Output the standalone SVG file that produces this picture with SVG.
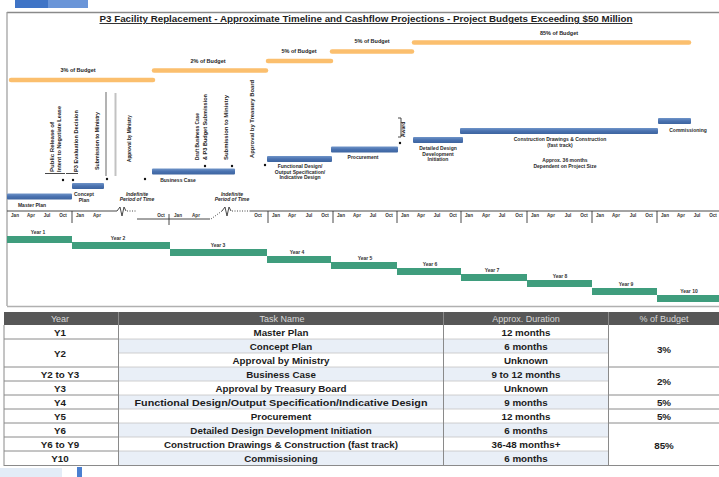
<svg xmlns="http://www.w3.org/2000/svg" width="719" height="477" viewBox="0 0 719 477">
<defs>
<linearGradient id="bar" x1="0" y1="0" x2="0" y2="1">
<stop offset="0" stop-color="#6f94c8"/><stop offset="0.5" stop-color="#4a72b0"/><stop offset="1" stop-color="#3d649f"/>
</linearGradient>
<style>
text{font-family:"Liberation Sans",Arial,sans-serif;fill:#1e1e1e}
.ttl{font-size:9px;font-weight:bold;text-decoration:underline}
.bud{font-size:5.5px;font-weight:bold;text-anchor:middle}
.orange{stroke:#fbbf6e;stroke-width:4.5;stroke-linecap:round}
.bar{fill:url(#bar)}
.lbl{font-size:5px;font-weight:bold;text-anchor:middle;fill:#2a2a2a}
.vl{font-size:5px;font-weight:bold;fill:#222}
.tick{font-size:4.6px;font-weight:bold;text-anchor:middle;fill:#333}
.yr{font-size:5px;font-weight:bold;text-anchor:middle;fill:#333}
.dot{fill:#111}
.ax{stroke:#333;stroke-width:0.9;fill:none}
.th{font-size:9px;text-anchor:middle;fill:#d8d8d8}
.td{font-size:9.8px;font-weight:bold;text-anchor:middle;fill:#1c1c1c}
.g{stroke:#8a8a8a;stroke-width:1}
.gl{stroke:#c4c4c4;stroke-width:0.8}
</style>
</defs>
<rect width="719" height="477" fill="#ffffff"/>
<rect x="15" y="0" width="73" height="8" fill="#3f74c6"/>
<rect x="48" y="0" width="40" height="8" fill="#6a95d8"/>
<line x1="7" y1="12.5" x2="719" y2="12.5" stroke="#8a8a8a" stroke-width="1.5"/>
<line x1="7" y1="12" x2="7" y2="306" stroke="#9a9a9a" stroke-width="1.2"/>
<line x1="7" y1="306.5" x2="719" y2="306.5" stroke="#b0b0b0" stroke-width="1.5"/>
<text class="ttl" x="366" y="22" text-anchor="middle" textLength="533" lengthAdjust="spacingAndGlyphs">P3 Facility Replacement - Approximate Timeline and Cashflow Projections - Project Budgets Exceeding $50 Million</text>

<g id="budget">
<line class="orange" x1="11" y1="80" x2="153" y2="80"/>
<line class="orange" x1="154" y1="70.5" x2="266" y2="70.5"/>
<line class="orange" x1="268" y1="61" x2="331" y2="61"/>
<line class="orange" x1="332" y1="51.5" x2="412" y2="51.5"/>
<line class="orange" x1="414" y1="42.5" x2="689" y2="42.5"/>
<text class="bud" x="78" y="72">3% of Budget</text>
<text class="bud" x="208" y="63">2% of Budget</text>
<text class="bud" x="299" y="53">5% of Budget</text>
<text class="bud" x="372" y="43">5% of Budget</text>
<text class="bud" x="559" y="35">85% of Budget</text>
</g>

<g id="connectors">
<line class="ax" x1="45" y1="173.5" x2="65" y2="173.5"/>
<line class="ax" x1="66" y1="173.5" x2="78" y2="173.5"/>
<line x1="106" y1="92" x2="106" y2="176" stroke="#9a9a9a" stroke-width="1.5"/>
<line x1="115.5" y1="93" x2="115.5" y2="176" stroke="#c2c2c2" stroke-width="2"/>
<path class="ax" d="M398,118 h3 v19 h-3" stroke-width="1.2"/>
<circle class="dot" cx="63" cy="180" r="1.2"/>
<circle class="dot" cx="73" cy="180" r="1.2"/>
<circle class="dot" cx="107" cy="179" r="1.2"/>
<circle class="dot" cx="145" cy="179" r="1.2"/>
<circle class="dot" cx="205" cy="166" r="1.2"/>
<circle class="dot" cx="232" cy="166" r="1.2"/>
<circle class="dot" cx="265" cy="165" r="1.2"/>
<circle class="dot" cx="400" cy="143" r="1.2"/>
</g>

<g id="milestones">
<text class="vl" transform="translate(54,172) rotate(-90)" textLength="50" lengthAdjust="spacingAndGlyphs">Public Release of</text>
<text class="vl" transform="translate(61,172) rotate(-90)" textLength="66" lengthAdjust="spacingAndGlyphs">Intent to Negotiate Lease</text>
<text class="vl" transform="translate(78,172) rotate(-90)" textLength="62" lengthAdjust="spacingAndGlyphs">P3 Evaluation Decision</text>
<text class="vl" transform="translate(99,170) rotate(-90)" textLength="58" lengthAdjust="spacingAndGlyphs">Submission to Ministry</text>
<text class="vl" transform="translate(131,162) rotate(-90)" textLength="47" lengthAdjust="spacingAndGlyphs">Approval by Ministry</text>
<text class="vl" transform="translate(199,160) rotate(-90)" textLength="47" lengthAdjust="spacingAndGlyphs">Draft Business Case</text>
<text class="vl" transform="translate(207,160) rotate(-90)" textLength="66" lengthAdjust="spacingAndGlyphs">&amp; P3 Budget Submission</text>
<text class="vl" transform="translate(228,160) rotate(-90)" textLength="65" lengthAdjust="spacingAndGlyphs">Submission to Ministry</text>
<text class="vl" transform="translate(254,158) rotate(-90)" textLength="78" lengthAdjust="spacingAndGlyphs">Approval by Treasury Board</text>
<text class="vl" transform="translate(405,137) rotate(-90)">Award</text>
</g>

<g id="task-master-plan">
<rect class="bar" x="7" y="193.5" width="65" height="6" rx="1"/>
<text class="lbl" x="32" y="207">Master Plan</text>
</g>
<g id="task-concept-plan">
<rect class="bar" x="72" y="183" width="32" height="6" rx="1"/>
<text class="lbl" x="84" y="196">Concept</text>
<text class="lbl" x="84" y="202">Plan</text>
</g>
<g id="task-business-case">
<rect class="bar" x="152" y="168.5" width="83" height="6" rx="1"/>
<text class="lbl" x="178" y="182">Business Case</text>
</g>
<g id="task-functional-design">
<rect class="bar" x="267" y="156" width="65" height="6" rx="1"/>
<text class="lbl" x="300" y="168">Functional Design/</text>
<text class="lbl" x="300" y="173.5">Output Specification/</text>
<text class="lbl" x="300" y="179">Indicative Design</text>
</g>
<g id="task-procurement">
<rect class="bar" x="331" y="146.5" width="67" height="6" rx="1"/>
<text class="lbl" x="363" y="159">Procurement</text>
</g>
<g id="task-detailed-design">
<rect class="bar" x="413" y="137" width="50" height="6" rx="1"/>
<text class="lbl" x="438" y="150">Detailed Design</text>
<text class="lbl" x="438" y="155.5">Development</text>
<text class="lbl" x="438" y="161">Initiation</text>
</g>
<g id="task-construction">
<rect class="bar" x="460" y="128" width="198" height="6" rx="1"/>
<text class="lbl" x="560" y="141">Construction Drawings &amp; Construction</text>
<text class="lbl" x="560" y="147">(fast track)</text>
<text class="lbl" x="565" y="162">Approx. 36 months</text>
<text class="lbl" x="565" y="168">Dependent on Project Size</text>
</g>
<g id="task-commissioning">
<rect class="bar" x="658" y="118" width="33" height="6" rx="1"/>
<text class="lbl" x="688" y="132">Commissioning</text>
</g>
<g id="indefinite">
<text class="lbl" x="137" y="196" font-style="italic">Indefinite</text>
<text class="lbl" x="137" y="201" font-style="italic">Period of Time</text>
<text class="lbl" x="232" y="196" font-style="italic">Indefinite</text>
<text class="lbl" x="232" y="201" font-style="italic">Period of Time</text>
</g>

<g id="axis">
<line class="ax" x1="7" y1="211" x2="117" y2="211"/>
<path class="ax" d="M117,211 l3,-4 l2,9 l2,-9 l2,4"/>
<line class="ax" x1="127" y1="211" x2="136" y2="211" stroke-dasharray="1,1.5"/>
<line class="ax" x1="137" y1="219" x2="210" y2="219"/>
<line class="ax" x1="211" y1="219" x2="222" y2="211" stroke-dasharray="1,1.5"/>
<path class="ax" d="M222,211 l3,-4 l2,9 l2,-9 l2,4"/>
<line class="ax" x1="232" y1="211" x2="250" y2="211" stroke-dasharray="1,1.5"/>
<line class="ax" x1="250" y1="211" x2="719" y2="211"/>
<g class="ax">
<line x1="72" y1="211" x2="72" y2="223"/>
<line x1="169" y1="214" x2="169" y2="225"/>
<line x1="268" y1="211" x2="268" y2="223"/>
<line x1="333" y1="211" x2="333" y2="223"/>
<line x1="397" y1="211" x2="397" y2="223"/>
<line x1="461" y1="211" x2="461" y2="223"/>
<line x1="527" y1="211" x2="527" y2="223"/>
<line x1="592" y1="211" x2="592" y2="223"/>
<line x1="657" y1="211" x2="657" y2="223"/>
</g>
<text class="tick" x="15" y="217">Jan</text><text class="tick" x="31" y="217">Apr</text><text class="tick" x="47" y="217">Jul</text><text class="tick" x="63" y="217">Oct</text>
<text class="tick" x="80" y="217">Jan</text><text class="tick" x="97" y="217">Apr</text>
<text class="tick" x="161" y="217">Oct</text><text class="tick" x="178" y="217">Jan</text><text class="tick" x="196" y="217">Apr</text>
<text class="tick" x="258" y="217">Oct</text>
<text class="tick" x="276" y="217">Jan</text><text class="tick" x="292" y="217">Apr</text><text class="tick" x="309" y="217">Jul</text><text class="tick" x="325" y="217">Oct</text>
<text class="tick" x="341" y="217">Jan</text><text class="tick" x="357" y="217">Apr</text><text class="tick" x="373" y="217">Jul</text><text class="tick" x="389" y="217">Oct</text>
<text class="tick" x="405" y="217">Jan</text><text class="tick" x="421" y="217">Apr</text><text class="tick" x="437" y="217">Jul</text><text class="tick" x="453" y="217">Oct</text>
<text class="tick" x="469" y="217">Jan</text><text class="tick" x="486" y="217">Apr</text><text class="tick" x="502" y="217">Jul</text><text class="tick" x="519" y="217">Oct</text>
<text class="tick" x="535" y="217">Jan</text><text class="tick" x="551" y="217">Apr</text><text class="tick" x="568" y="217">Jul</text><text class="tick" x="584" y="217">Oct</text>
<text class="tick" x="600" y="217">Jan</text><text class="tick" x="616" y="217">Apr</text><text class="tick" x="633" y="217">Jul</text><text class="tick" x="649" y="217">Oct</text>
<text class="tick" x="665" y="217">Jan</text><text class="tick" x="681" y="217">Apr</text><text class="tick" x="697" y="217">Jul</text><text class="tick" x="713" y="217">Oct</text>
</g>

<g id="years">
<polygon fill="#3f9d7d" points="7,236 72,236 72,242 170,242 170,249 267,249 267,256 331,256 331,262 397,262 397,268 461,268 461,274 527,274 527,280 592,280 592,288 657,288 657,295 719,295 719,302 657,302 657,295 592,295 592,287 527,287 527,281 461,281 461,275 397,275 397,269 331,269 331,263 267,263 267,256 170,256 170,249 72,249 72,243 7,243"/>
<text class="yr" x="38" y="234">Year 1</text>
<text class="yr" x="118" y="240">Year 2</text>
<text class="yr" x="218" y="247">Year 3</text>
<text class="yr" x="297" y="254">Year 4</text>
<text class="yr" x="365" y="260">Year 5</text>
<text class="yr" x="430" y="266">Year 6</text>
<text class="yr" x="492" y="272">Year 7</text>
<text class="yr" x="560" y="278">Year 8</text>
<text class="yr" x="626" y="286">Year 9</text>
<text class="yr" x="689" y="293">Year 10</text>
</g>

<g id="table">
<rect x="4" y="312" width="715" height="13" fill="#575757"/>
<g fill="#e9eff7">
<rect x="119" y="339" width="489" height="14"/>
<rect x="119" y="367" width="489" height="14"/>
<rect x="119" y="395" width="489" height="14"/>
<rect x="119" y="423" width="489" height="14"/>
<rect x="119" y="451" width="489" height="14"/>
</g>
<g class="gl">
<line x1="119" y1="339" x2="608" y2="339"/>
<line x1="119" y1="353" x2="608" y2="353"/>
<line x1="119" y1="367" x2="608" y2="367"/>
<line x1="119" y1="381" x2="608" y2="381"/>
<line x1="119" y1="395" x2="608" y2="395"/>
<line x1="119" y1="409" x2="608" y2="409"/>
<line x1="119" y1="423" x2="608" y2="423"/>
<line x1="119" y1="437" x2="608" y2="437"/>
<line x1="119" y1="451" x2="608" y2="451"/>
</g>
<g class="g">
<line x1="4" y1="325" x2="4" y2="466"/>
<line x1="118.5" y1="312" x2="118.5" y2="466"/>
<line x1="443.5" y1="312" x2="443.5" y2="466"/>
<line x1="608.5" y1="312" x2="608.5" y2="466"/>
<line x1="4" y1="339" x2="118" y2="339"/>
<line x1="4" y1="367" x2="118" y2="367"/>
<line x1="4" y1="381" x2="118" y2="381"/>
<line x1="4" y1="395" x2="118" y2="395"/>
<line x1="4" y1="409" x2="118" y2="409"/>
<line x1="4" y1="423" x2="118" y2="423"/>
<line x1="4" y1="437" x2="118" y2="437"/>
<line x1="4" y1="451" x2="118" y2="451"/>
<line x1="609" y1="367" x2="719" y2="367"/>
<line x1="609" y1="395" x2="719" y2="395"/>
<line x1="609" y1="409" x2="719" y2="409"/>
<line x1="609" y1="423" x2="719" y2="423"/>
<line x1="4" y1="465.5" x2="719" y2="465.5"/>
</g>
<text class="th" x="60" y="322">Year</text>
<text class="th" x="282" y="322">Task Name</text>
<text class="th" x="526" y="322">Approx. Duration</text>
<text class="th" x="664" y="322">% of Budget</text>

<text class="td" x="60" y="336">Y1</text>
<text class="td" x="60" y="357">Y2</text>
<text class="td" x="60" y="378">Y2 to Y3</text>
<text class="td" x="60" y="392">Y3</text>
<text class="td" x="60" y="406">Y4</text>
<text class="td" x="60" y="420">Y5</text>
<text class="td" x="60" y="434">Y6</text>
<text class="td" x="60" y="448">Y6 to Y9</text>
<text class="td" x="60" y="462">Y10</text>

<text class="td" x="281" y="336">Master Plan</text>
<text class="td" x="281" y="350">Concept Plan</text>
<text class="td" x="281" y="364">Approval by Ministry</text>
<text class="td" x="281" y="378">Business Case</text>
<text class="td" x="281" y="392">Approval by Treasury Board</text>
<text class="td" x="281" y="406" textLength="293" lengthAdjust="spacingAndGlyphs">Functional Design/Output Specification/Indicative Design</text>
<text class="td" x="281" y="420">Procurement</text>
<text class="td" x="281" y="434">Detailed Design Development Initiation</text>
<text class="td" x="281" y="448">Construction Drawings &amp; Construction (fast track)</text>
<text class="td" x="281" y="462">Commissioning</text>

<text class="td" x="526" y="336">12 months</text>
<text class="td" x="526" y="350">6 months</text>
<text class="td" x="526" y="364">Unknown</text>
<text class="td" x="526" y="378">9 to 12 months</text>
<text class="td" x="526" y="392">Unknown</text>
<text class="td" x="526" y="406">9 months</text>
<text class="td" x="526" y="420">12 months</text>
<text class="td" x="526" y="434">6 months</text>
<text class="td" x="526" y="448">36-48 months+</text>
<text class="td" x="526" y="462">6 months</text>

<text class="td" x="664" y="353">3%</text>
<text class="td" x="664" y="385">2%</text>
<text class="td" x="664" y="406">5%</text>
<text class="td" x="664" y="420">5%</text>
<text class="td" x="664" y="449">85%</text>
</g>
<rect x="0" y="468" width="62" height="9" fill="#e3ecf7"/>
<rect x="77" y="467" width="5" height="10" fill="#4a7fd0"/>
</svg>
